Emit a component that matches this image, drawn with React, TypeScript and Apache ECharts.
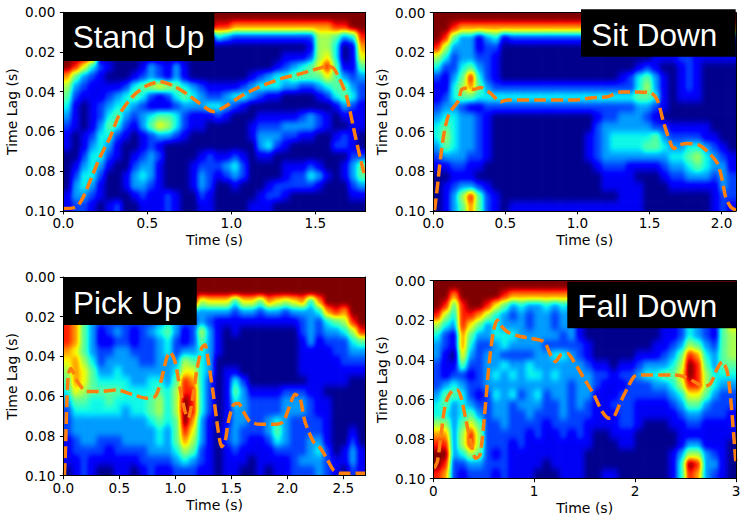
import React, { useEffect, useRef } from "react";
import * as echarts from "echarts";

// ---------------- data ----------------
const panelTitles = ["Stand Up", "Sit Down", "Pick Up", "Fall Down"];
const timeMax = [1.8, 2.1, 2.7, 3.0];
const xTickValues = [
  [0, 0.5, 1.0, 1.5],
  [0, 0.5, 1.0, 1.5, 2.0],
  [0, 0.5, 1.0, 1.5, 2.0, 2.5],
  [0, 1, 2, 3],
];
const lagMax = 0.1;
const yTickValues = [0, 0.02, 0.04, 0.06, 0.08, 0.1];
// intensity level per cell: 0 (dark blue) ... 9 (red), R = dark red
const levelKeys = "0123456789R";

// rows: time lag 0 -> 0.1 (20 rows), columns: time 0 -> max (36 columns)
const standUpGrid = [
  "RRRRRRRRRRRRRRRRRR" + "RRRRRRRRRRRRRRRRRR",
  "RRRRRRRRRRRRRRRRRR" + "99" + "888888888" + "888" + "99" + "RR",
  "RRRR" + "00000000000000" + "43" + "222222222" + "2665349",
  "RRRR" + "0000000000" + "0000000000" + "00000" + "1664018",
  "RRR9" + "0000000000" + "0000000000" + "00" + "111" + "2674017",
  "R97421" + "000" + "132131" + "0000000000" + "12345" + "795115",
  "85321" + "000" + "1" + "232131" + "0000000" + "123445" + "55575323",
  "632111" + "124567" + "654321" + "111234" + "443322" + "345532",
  "521112" + "345421" + "245432" + "234432" + "110000" + "124542",
  "410123" + "443211" + "123334" + "432100" + "000000" + "001321",
  "310124" + "532345" + "542111" + "210001" + "111123" + "210111",
  "210135" + "421357" + "642110" + "000012" + "223333" + "210011",
  "101244" + "210123" + "321000" + "000013" + "332211" + "001210",
  "101343" + "100121" + "000000" + "000003" + "421000" + "002210",
  "002442" + "101232" + "000012" + "112101" + "100000" + "000022",
  "013431" + "002331" + "000122" + "234200" + "001112" + "100135",
  "024420" + "013431" + "000132" + "123200" + "001224" + "310135",
  "034310" + "013321" + "000132" + "001000" + "122222" + "100023",
  "133210" + "001211" + "210021" + "000001" + "221000" + "000011",
  "122101" + "200111" + "210011" + "000011" + "100000" + "000000",
];

const sitDownGrid = [
  "RRRRRRRRRRRRRRRRRR" + "RRRRRRRRRRRRRRRRRR",
  "RR9" + "888888888888888" + "888888888888888888",
  "R95331341" + "222222222" + "222222222222222222",
  "963331220" + "000000000" + "000000000000000000",
  "642332210" + "000000000" + "000000001112211111",
  "422453210" + "000000000" + "000000121001210000",
  "213594210" + "000000000" + "000012453101210000",
  "114685322" + "222222222" + "222222463101210000",
  "124554444" + "444444444" + "444444554101110000",
  "233211222" + "222222222" + "222222332100000000",
  "344332100" + "000000000" + "012233321000000000",
  "454332100" + "000000000" + "023333332211111000",
  "464332100" + "000000000" + "123444445322221100",
  "354332100" + "000000000" + "123444455433443210",
  "233322100" + "000000000" + "123333333344564321",
  "112211000" + "000000000" + "012221111233454331",
  "001110000" + "000000000" + "001111000122333232",
  "012332100" + "000000000" + "001111100011111132",
  "013695210" + "000000000" + "000011100000000122",
  "013585210" + "111111111" + "111111100000000121",
];

const pickUpGrid = [
  "RRRRRRRRRRRRRRRR" + "RRRRRRRRRRRRRRRRRRRR",
  "RRRRRRRRRRRRRRRR" + "RRRRRRRRRRRRRRRRRRRR",
  "RRRRRRRRRRRRRRRR" + "677747758767848RRRRR",
  "9999333333333333" + "333323323323334898RR",
  "9853222222234322" + "3211111111112324569R",
  "9853123212345312" + "63101000000023233469",
  "9853112212234212" + "53100000000013122245",
  "8753223322234233" + "43100000000011112233",
  "7864233332233365" + "43000000000011111222",
  "6875334333333477" + "43011000000011111111",
  "5875444433443598" + "42014200000001111100",
  "4765555444454699" + "42015311112221100000",
  "35544544445646R9" + "42014322223332110000",
  "24444443445646R9" + "42013322223332110000",
  "23333333334545R8" + "31013322343222210000",
  "2333333333343597" + "31023222353222210010",
  "1233222333343586" + "31023211243223310020",
  "1222212222333465" + "21012111122223420131",
  "1121111112222343" + "21011101111233321131",
  "0121001101211222" + "11011001011222321021",
];

const fallDownGrid = [
  "RRRRRRRRRRRRRRRR" + "RRRRRRRRRRRRRRRRRRRR",
  "RR8RRRRR9" + "8888888" + "88888888888888888888",
  "R959RR975" + "3433434" + "33333333333333333333",
  "964998643" + "2323323" + "31000000000112432157",
  "6439753433323323" + "31000000000112432157",
  "4218533444333332" + "31000000000112432156",
  "3218422343333222" + "22100000001123653256",
  "3107323322223344" + "32100000111235984356",
  "2115223343343333" + "33211011233346R95355",
  "2122123434344343" + "33322122344557R96444",
  "2343223333333333" + "23321112223346996433",
  "3554212434234233" + "23311122222234775322",
  "4534322332333223" + "23211222111123553222",
  "4434532332232223" + "22211122111112332221",
  "6635752232222122" + "22111122100011221111",
  "8836962222212112" + "12100111000001111111",
  "9936962221211111" + "11100011000001331110",
  "RR34652121111111" + "11000000000013663210",
  "R922332221111011" + "11000000000014R93310",
  "9821222121110001" + "11001100000014983210",
];

const standUpLine: [number, number][] = [
  [0.0, 0.0988], [0.06, 0.0985], [0.09, 0.097], [0.119, 0.093], [0.169, 0.083],
  [0.218, 0.073], [0.278, 0.063], [0.337, 0.051], [0.417, 0.042], [0.496, 0.037],
  [0.575, 0.035], [0.655, 0.037], [0.734, 0.041], [0.814, 0.046], [0.893, 0.05],
  [0.972, 0.047], [1.052, 0.0425], [1.131, 0.039], [1.211, 0.036], [1.31, 0.033],
  [1.409, 0.031], [1.488, 0.029], [1.568, 0.0274], [1.607, 0.028], [1.647, 0.034],
  [1.687, 0.0425], [1.727, 0.058], [1.766, 0.0728], [1.796, 0.083],
];

const sitDownLine: [number, number][] = [
  [0.009, 0.0997], [0.028, 0.088], [0.051, 0.0727], [0.079, 0.059], [0.109, 0.051],
  [0.143, 0.0475], [0.178, 0.044], [0.194, 0.039], [0.236, 0.038], [0.282, 0.0387],
  [0.328, 0.0377], [0.398, 0.0407], [0.467, 0.045], [0.513, 0.044], [0.745, 0.044],
  [0.976, 0.044], [1.092, 0.043], [1.207, 0.0424], [1.3, 0.04], [1.393, 0.04],
  [1.508, 0.0404], [1.554, 0.044], [1.6, 0.056], [1.647, 0.066], [1.67, 0.0685],
  [1.704, 0.0668], [1.762, 0.066], [1.843, 0.0668], [1.901, 0.07], [1.971, 0.076],
  [2.005, 0.0845], [2.028, 0.093], [2.063, 0.098], [2.1, 0.0997],
];

const pickUpLine: [number, number][] = [
  [0.01, 0.0997], [0.02, 0.086], [0.03, 0.066], [0.045, 0.049], [0.068, 0.046],
  [0.119, 0.052], [0.208, 0.0576], [0.327, 0.0576], [0.476, 0.0568], [0.625, 0.0593],
  [0.744, 0.061], [0.819, 0.0602], [0.863, 0.0543], [0.923, 0.0408], [0.953, 0.0378],
  [0.997, 0.0425], [1.042, 0.056], [1.087, 0.0677], [1.116, 0.071], [1.155, 0.061],
  [1.19, 0.0476], [1.235, 0.0358], [1.265, 0.0341], [1.295, 0.0425], [1.34, 0.0593],
  [1.384, 0.0778], [1.414, 0.0854], [1.444, 0.0829], [1.474, 0.0728], [1.518, 0.0644],
  [1.563, 0.0635], [1.607, 0.0677], [1.667, 0.0728], [1.756, 0.0741], [1.905, 0.0741],
  [1.965, 0.0728], [2.024, 0.0644], [2.069, 0.059], [2.113, 0.061], [2.158, 0.0728],
  [2.233, 0.0829], [2.292, 0.0859], [2.352, 0.0913], [2.411, 0.0971], [2.47, 0.0988],
  [2.7, 0.0988],
];

const fallDownLine: [number, number][] = [
  [0.007, 0.0948], [0.04, 0.0914], [0.073, 0.0796], [0.106, 0.0662], [0.139, 0.0594],
  [0.188, 0.0557], [0.238, 0.0552], [0.278, 0.0594], [0.32, 0.0695], [0.37, 0.0813],
  [0.42, 0.0897], [0.463, 0.088], [0.502, 0.0712], [0.552, 0.0426], [0.595, 0.0258],
  [0.634, 0.0199], [0.667, 0.0224], [0.733, 0.0258], [0.833, 0.0278], [0.965, 0.0291],
  [1.097, 0.0308], [1.163, 0.0375], [1.212, 0.0409], [1.262, 0.0375], [1.328, 0.0367],
  [1.394, 0.0409], [1.493, 0.0493], [1.593, 0.0577], [1.675, 0.0662], [1.741, 0.0695],
  [1.791, 0.0687], [1.857, 0.0611], [1.923, 0.0544], [1.989, 0.0485], [2.055, 0.0476],
  [2.386, 0.0476], [2.485, 0.0485], [2.584, 0.051], [2.683, 0.0535], [2.749, 0.0519],
  [2.815, 0.0443], [2.864, 0.0409], [2.914, 0.046], [2.947, 0.0594], [2.98, 0.0796],
  [3.0, 0.093],
];

const heatGrids = [standUpGrid, sitDownGrid, pickUpGrid, fallDownGrid];
const ridgeLines = [standUpLine, sitDownLine, pickUpLine, fallDownLine];

// ---------------- styling / layout ----------------
// position of each level on the jet colour scale
const LEVEL_POS = [0.01, 0.1, 0.19, 0.28, 0.37, 0.46, 0.55, 0.64, 0.75, 0.88, 1.0];
const GRAYS = LEVEL_POS.map((p) => {
  const v = Math.round(p * 255);
  return `rgb(${v},${v},${v})`;
});

function jet(x: number): [number, number, number] {
  const r = x < 0.35 ? 0 : x < 0.66 ? (x - 0.35) / 0.31 : x < 0.89 ? 1 : 1 - (0.5 * (x - 0.89)) / 0.11;
  const g = x < 0.125 ? 0 : x < 0.375 ? (x - 0.125) / 0.25 : x < 0.64 ? 1 : x < 0.91 ? 1 - (x - 0.64) / 0.27 : 0;
  const b = x < 0.11 ? 0.5 + (0.5 * x) / 0.11 : x < 0.34 ? 1 : x < 0.65 ? 1 - (x - 0.34) / 0.31 : 0;
  return [r, g, b];
}
const TABLE_N = 101;
const jetTable = Array.from({ length: TABLE_N }, (_, k) => jet(k / (TABLE_N - 1)));
const tableR = jetTable.map((c) => c[0].toFixed(4)).join(" ");
const tableG = jetTable.map((c) => c[1].toFixed(4)).join(" ");
const tableB = jetTable.map((c) => c[2].toFixed(4)).join(" ");

const gridRects = [
  { left: 63.3, top: 12.3, width: 302.4, height: 198.6 },
  { left: 433.3, top: 12.7, width: 302.7, height: 198.2 },
  { left: 63.3, top: 277, width: 302.4, height: 198.7 },
  { left: 433.3, top: 280.7, width: 302.7, height: 198 },
];
const labelBoxes = [
  { x: 63.3, y: 12.3, w: 151, h: 48.7, cx: 138.5, cy: 36.7 },
  { x: 581, y: 9.3, w: 154.7, h: 47.4, cx: 654.2, cy: 34.7 },
  { x: 63.3, y: 277.3, w: 133.4, h: 47.7, cx: 127.2, cy: 302.5 },
  { x: 567.3, y: 281.7, w: 168.7, h: 46.6, cx: 647.3, cy: 305.8 },
];
const FONT = "DejaVu Sans";
const PAD = 14; // bleed around each heat map so the smoothing has no edge falloff
const BLUR = "2.9 3.2";

function buildCells(rows: string[], tMax: number) {
  const nRows = rows.length;
  const nCols = rows[0].length;
  const dt = tMax / nCols;
  const dl = lagMax / nRows;
  const data: number[][] = [];
  rows.forEach((row, r) => {
    for (let c = 0; c < nCols; c++) {
      const lv = levelKeys.indexOf(row[c] ?? "0");
      data.push([c * dt, r * dl, lv < 0 ? 0 : lv]);
    }
  });
  return { data, dt, dl };
}

function heatOption(i: number) {
  const T = timeMax[i];
  const g = gridRects[i];
  const { data, dt, dl } = buildCells(heatGrids[i], T);
  const eps = 1e-9;
  return {
    animation: false,
    grid: { left: PAD, top: PAD, width: g.width, height: g.height },
    xAxis: { type: "value", min: 0, max: T, show: false },
    yAxis: { type: "value", inverse: true, min: 0, max: lagMax, show: false },
    visualMap: {
      type: "continuous",
      show: false,
      min: 0,
      max: 10,
      dimension: 2,
      seriesIndex: 0,
      inRange: { color: GRAYS },
    },
    series: [
      {
        type: "custom",
        clip: false,
        progressive: 0,
        encode: { x: 0, y: 1 },
        data,
        renderItem: (_p: any, api: any) => {
          const t0 = api.value(0) as number;
          const l0 = api.value(1) as number;
          const a = api.coord([t0, l0]);
          const b = api.coord([t0 + dt, l0 + dl]);
          let x0 = Math.min(a[0], b[0]);
          let x1 = Math.max(a[0], b[0]) + 0.6;
          let y0 = Math.min(a[1], b[1]);
          let y1 = Math.max(a[1], b[1]) + 0.6;
          if (t0 < eps) x0 -= PAD;
          if (t0 + dt > T - 1e-6) x1 += PAD;
          if (l0 < eps) y0 -= PAD;
          if (l0 + dl > lagMax - 1e-6) y1 += PAD;
          return {
            type: "rect",
            shape: { x: x0, y: y0, width: x1 - x0, height: y1 - y0 },
            style: { fill: api.visual("color") },
          };
        },
      },
    ],
  };
}

function mainOption() {
  const grid = gridRects.map((g) => ({ ...g, containLabel: false }));
  const xAxis: any[] = [];
  const yAxis: any[] = [];
  const series: any[] = [];
  for (let i = 0; i < 4; i++) {
    const T = timeMax[i];
    xAxis.push({
      gridIndex: i,
      type: "value",
      min: 0,
      max: T,
      position: "bottom",
      z: 5,
      axisLine: { show: true, onZero: false, lineStyle: { color: "#000", width: 1 } },
      axisTick: { show: true, length: 3.5, customValues: xTickValues[i], lineStyle: { color: "#000" } },
      axisLabel: {
        customValues: xTickValues[i],
        color: "#000",
        fontSize: 13.6,
        fontFamily: FONT,
        margin: 5.5,
        formatter: (v: number) => (i < 3 ? v.toFixed(1) : String(Math.round(v))),
      },
      splitLine: { show: false },
      name: "Time (s)",
      nameLocation: "middle",
      nameGap: 22,
      nameTextStyle: { color: "#000", fontSize: 14, fontFamily: FONT },
    });
    xAxis.push({
      gridIndex: i,
      type: "value",
      min: 0,
      max: T,
      position: "top",
      z: 5,
      axisLine: { show: true, onZero: false, lineStyle: { color: "#000", width: 1 } },
      axisTick: { show: false },
      axisLabel: { show: false },
      splitLine: { show: false },
    });
    yAxis.push({
      gridIndex: i,
      type: "value",
      inverse: true,
      min: 0,
      max: lagMax,
      position: "left",
      z: 5,
      axisLine: { show: true, onZero: false, lineStyle: { color: "#000", width: 1 } },
      axisTick: { show: true, length: 3.5, customValues: yTickValues, lineStyle: { color: "#000" } },
      axisLabel: {
        customValues: yTickValues,
        color: "#000",
        fontSize: 13.6,
        fontFamily: FONT,
        margin: 8,
        formatter: (v: number) => v.toFixed(2),
      },
      splitLine: { show: false },
      name: "Time Lag (s)",
      nameLocation: "middle",
      nameRotate: 90,
      nameGap: 44,
      nameTextStyle: { color: "#000", fontSize: 14, fontFamily: FONT },
    });
    yAxis.push({
      gridIndex: i,
      type: "value",
      inverse: true,
      min: 0,
      max: lagMax,
      position: "right",
      z: 5,
      axisLine: { show: true, onZero: false, lineStyle: { color: "#000", width: 1 } },
      axisTick: { show: false },
      axisLabel: { show: false },
      splitLine: { show: false },
    });
    series.push({
      type: "line",
      xAxisIndex: 2 * i,
      yAxisIndex: 2 * i,
      data: ridgeLines[i],
      symbol: "none",
      showSymbol: false,
      smooth: 0.25,
      clip: true,
      lineStyle: { color: "#ff7f0e", width: 3.5, type: [12, 5] },
    });
  }

  const graphicEls: any[] = [];
  labelBoxes.forEach((b, i) => {
    graphicEls.push({
      type: "rect",
      z: 100,
      shape: { x: b.x, y: b.y, width: b.w, height: b.h },
      style: { fill: "#000" },
    });
    graphicEls.push({
      type: "text",
      z: 101,
      x: b.cx,
      y: b.cy,
      style: {
        text: panelTitles[i],
        fill: "#fff",
        fontSize: 31.5,
        fontFamily: "Liberation Sans",
        textAlign: "center",
        textVerticalAlign: "middle",
      },
    });
  });

  return {
    animation: false,
    backgroundColor: "transparent",
    textStyle: { fontFamily: FONT },
    grid,
    xAxis,
    yAxis,
    series,
    graphic: { elements: graphicEls },
  };
}

export default function App() {
  const mainRef = useRef<HTMLDivElement>(null);
  const h0 = useRef<HTMLDivElement>(null);
  const h1 = useRef<HTMLDivElement>(null);
  const h2 = useRef<HTMLDivElement>(null);
  const h3 = useRef<HTMLDivElement>(null);
  const heatRefs = [h0, h1, h2, h3];

  useEffect(() => {
    const charts: echarts.ECharts[] = [];
    heatRefs.forEach((r, i) => {
      if (!r.current) return;
      const c = echarts.init(r.current, undefined, { renderer: "svg" });
      c.setOption(heatOption(i) as any);
      charts.push(c);
    });
    if (mainRef.current) {
      const m = echarts.init(mainRef.current, undefined, { renderer: "svg" });
      m.setOption(mainOption() as any);
      charts.push(m);
    }
    return () => charts.forEach((c) => c.dispose());
  }, []);

  return (
    <div style={{ position: "absolute", left: 0, top: 0, width: 747, height: 523, background: "#fff" }}>
      <svg width="0" height="0" style={{ position: "absolute", left: 0, top: 0 }}>
        <defs>
          <filter id="jetSmooth" x="0" y="0" width="100%" height="100%" colorInterpolationFilters="sRGB">
            <feGaussianBlur stdDeviation={BLUR} />
            <feComponentTransfer>
              <feFuncR type="table" tableValues={tableR} />
              <feFuncG type="table" tableValues={tableG} />
              <feFuncB type="table" tableValues={tableB} />
            </feComponentTransfer>
          </filter>
        </defs>
      </svg>
      {gridRects.map((g, i) => (
        <div
          key={i}
          style={{
            position: "absolute",
            left: g.left,
            top: g.top,
            width: g.width,
            height: g.height,
            overflow: "hidden",
          }}
        >
          <div
            ref={heatRefs[i]}
            style={{
              position: "absolute",
              left: -PAD,
              top: -PAD,
              width: g.width + 2 * PAD,
              height: g.height + 2 * PAD,
              filter: "url(#jetSmooth)",
            }}
          />
        </div>
      ))}
      <div ref={mainRef} style={{ position: "absolute", left: 0, top: 0, width: 747, height: 523 }} />
    </div>
  );
}
